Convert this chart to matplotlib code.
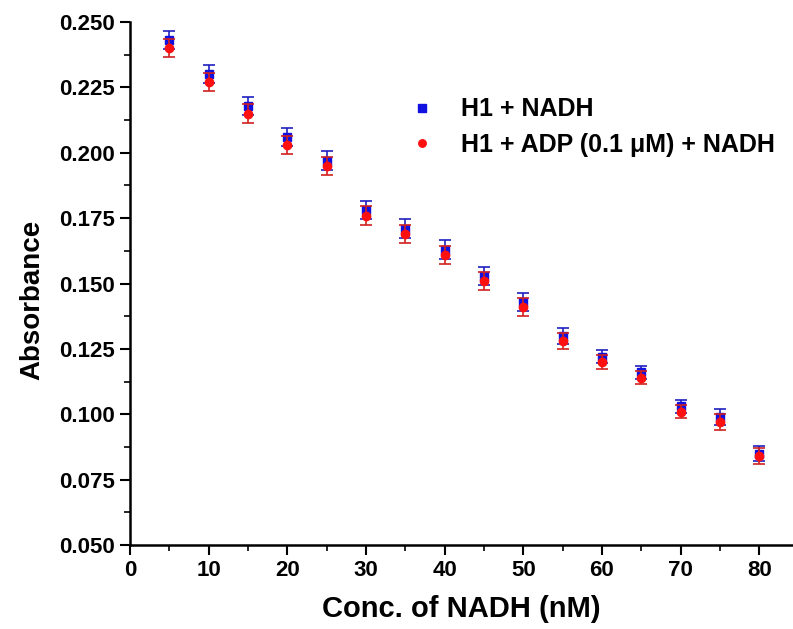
import matplotlib
matplotlib.use("Agg")
import matplotlib.pyplot as plt
from matplotlib.ticker import MultipleLocator, FormatStrFormatter

plt.rcParams['font.family'] = ['Liberation Sans', 'DejaVu Sans']
plt.rcParams['font.weight'] = 'bold'

conc = [5, 10, 15, 20, 25, 30, 35, 40, 45, 50, 55, 60, 65, 70, 75, 80]
h1_nadh = [0.243, 0.230, 0.218, 0.206, 0.197, 0.178, 0.171, 0.163, 0.153, 0.143,
           0.130, 0.122, 0.116, 0.103, 0.099, 0.085]
h1_nadh_err = [0.0035, 0.0035, 0.0035, 0.0035, 0.0035, 0.0035, 0.0035, 0.0035, 0.0035, 0.0035,
               0.0030, 0.0025, 0.0025, 0.0025, 0.0030, 0.0030]
h1_adp_nadh = [0.240, 0.227, 0.215, 0.203, 0.195, 0.176, 0.169, 0.161, 0.151, 0.141,
               0.128, 0.120, 0.114, 0.101, 0.097, 0.084]
h1_adp_err = [0.0035, 0.0035, 0.0035, 0.0035, 0.0035, 0.0035, 0.0035, 0.0035, 0.0035, 0.0035,
              0.0030, 0.0025, 0.0025, 0.0025, 0.0030, 0.0030]

fig = plt.figure(figsize=(7.93, 6.29), dpi=100)
ax = fig.add_axes([0.164, 0.1335, 0.836, 0.8315])

blue = '#1010e0'
red = '#ff1010'
ax.errorbar(conc, h1_nadh, yerr=h1_nadh_err, fmt='none', ecolor='#2020c0',
            elinewidth=1.2, capsize=4, capthick=1.2, zorder=2)
ax.plot(conc, h1_nadh, 's', color=blue, markersize=6, label='H1 + NADH', zorder=3)
ax.errorbar(conc, h1_adp_nadh, yerr=h1_adp_err, fmt='none', ecolor='#d02020',
            elinewidth=1.2, capsize=4, capthick=1.2, zorder=4)
ax.plot(conc, h1_adp_nadh, 'o', color=red, markersize=6,
        label='H1 + ADP (0.1 \u03bcM) + NADH', zorder=5)

ax.set_xlim(0, 84.3)
ax.set_ylim(0.05, 0.25)
ax.xaxis.set_major_locator(MultipleLocator(10))
ax.xaxis.set_minor_locator(MultipleLocator(5))
ax.yaxis.set_major_locator(MultipleLocator(0.025))
ax.yaxis.set_minor_locator(MultipleLocator(0.0125))
ax.yaxis.set_major_formatter(FormatStrFormatter('%.3f'))

for s in ['top', 'right']:
    ax.spines[s].set_visible(False)
for s in ['left', 'bottom']:
    ax.spines[s].set_linewidth(1.8)

ax.tick_params(which='major', direction='out', length=7, width=1.5, labelsize=16, pad=4)
ax.tick_params(which='minor', direction='out', length=4, width=1.2)
for lab in ax.get_xticklabels() + ax.get_yticklabels():
    lab.set_fontweight('bold')

ax.set_xlabel('Conc. of NADH (nM)', fontsize=21, fontweight='bold', labelpad=10)
ax.set_ylabel('Absorbance', fontsize=20, fontweight='bold')
ax.yaxis.set_label_coords(-0.128, 0.468)

ax.legend(loc='upper left', bbox_to_anchor=(0.378, 0.899), frameon=False,
          prop={'size': 18, 'weight': 'bold'}, handletextpad=0.8, labelspacing=0.45,
          markerscale=0.9, handlelength=1.5)

fig.savefig('out.png', dpi=100)
